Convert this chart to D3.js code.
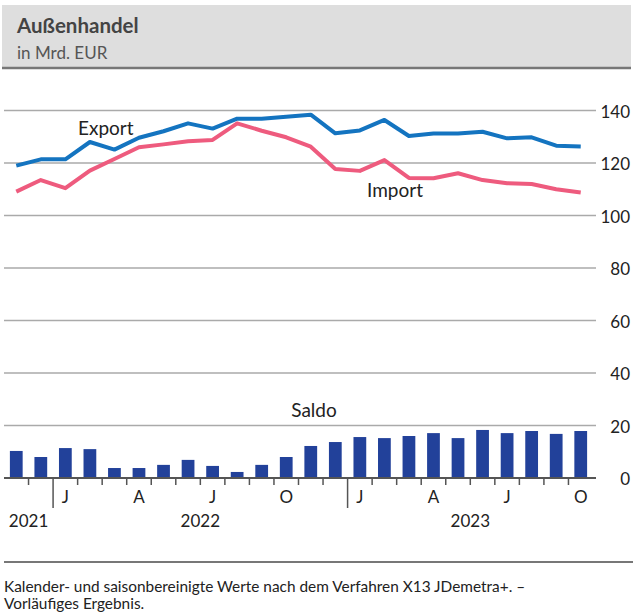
<!DOCTYPE html>
<html><head><meta charset="utf-8">
<script src="https://cdn.jsdelivr.net/npm/d3@7/dist/d3.min.js"></script>
<style>
html,body{margin:0;padding:0;background:#fff;}
svg{display:block;font-family:Lato,"Noto Sans",sans-serif;}
</style></head>
<body>
<script>
// ---- data ----
const months = ["2021-11","2021-12","2022-01","2022-02","2022-03","2022-04","2022-05","2022-06","2022-07","2022-08","2022-09","2022-10","2022-11","2022-12","2023-01","2023-02","2023-03","2023-04","2023-05","2023-06","2023-07","2023-08","2023-09","2023-10"];
const exportValues = [119.0,121.4,121.4,128.0,125.1,129.6,132.1,135.1,133.1,136.9,136.9,137.6,138.4,131.3,132.4,136.4,130.3,131.2,131.2,131.9,129.4,129.8,126.6,126.3];
const importValues = [109.1,113.5,110.4,117.1,121.5,126.0,127.1,128.3,128.8,135.1,132.3,129.8,126.2,117.7,117.0,121.1,114.3,114.2,116.1,113.5,112.3,112.0,110.0,108.8];
const saldoValues  = [10.3,8.0,11.4,11.0,3.8,3.8,5.0,6.9,4.6,2.3,5.0,8.0,12.2,13.7,15.6,15.2,16.0,17.1,15.2,18.3,17.1,17.9,16.8,17.9];
const monthTickLabels = ["","","J","","","A","","","J","","","O","","","J","","","A","","","J","","","O"];
const years = ["2021","2022","2023"];
const yTicks = [0,20,40,60,80,100,120,140];

const W = 633, H = 613;
const svg = d3.select("body").append("svg").attr("width",W).attr("height",H);

// header
svg.append("rect").attr("x",2).attr("y",5).attr("width",629).attr("height",63).attr("fill","#dedede");
svg.append("line").attr("x1",2).attr("x2",631).attr("y1",68).attr("y2",68).attr("stroke","#777").attr("stroke-width",2.5);
svg.append("text").attr("x",17).attr("y",32.5).attr("font-size",20.5).attr("font-weight","bold").attr("fill","#444").text("Außenhandel");
svg.append("text").attr("x",17).attr("y",59).attr("font-size",17).attr("fill","#555").text("in Mrd. EUR");

// scales
const x = d3.scaleBand().domain(months).range([4,593]).padding(0);
const cx = m => x(m) + x.bandwidth()/2;
const y = d3.scaleLinear().domain([0,140]).range([478,110.5]);

// gridlines
svg.append("g").selectAll("line").data(yTicks.filter(d=>d>0)).join("line")
  .attr("x1",4).attr("x2",596).attr("y1",d=>y(d)).attr("y2",d=>y(d))
  .attr("stroke","#aaa").attr("stroke-width",1.5);

// y axis labels (right)
const yAxis = d3.axisRight(y).tickValues(yTicks).tickSize(0).tickPadding(0);
const ya = svg.append("g").attr("transform","translate(630,0)").call(yAxis);
ya.select(".domain").remove();
ya.selectAll("text").attr("text-anchor","end").attr("x",0).attr("dy",null).attr("dominant-baseline","central")
  .attr("font-family","Lato").attr("font-size",17).attr("fill","#222");

// bars
const bw = x.bandwidth()*0.52;
svg.append("g").selectAll("rect").data(saldoValues).join("rect")
  .attr("x",(d,i)=>cx(months[i])-bw/2).attr("width",bw)
  .attr("y",d=>y(d)).attr("height",d=>y(0)-y(d)).attr("fill","#22419a");

// baseline
svg.append("line").attr("x1",4).attr("x2",596).attr("y1",y(0)).attr("y2",y(0)).attr("stroke","#555").attr("stroke-width",2);

// month ticks
const boundaries = d3.range(1,24);
svg.append("g").selectAll("line").data(boundaries).join("line")
  .attr("x1",i=>x(months[i])).attr("x2",i=>x(months[i]))
  .attr("y1",y(0)).attr("y2",i=>months[i].endsWith("-01")?508:485)
  .attr("stroke","#555").attr("stroke-width",1.5);

// month labels
svg.append("g").selectAll("text").data(monthTickLabels).join("text")
  .attr("x",(d,i)=>cx(months[i])).attr("y",503).attr("text-anchor","middle")
  .attr("font-size",17).attr("fill","#222").text(d=>d);

// year labels
years.forEach(yr=>{
  const ms = months.filter(m=>m.startsWith(yr));
  const c = (cx(ms[0])+cx(ms[ms.length-1]))/2;
  svg.append("text").attr("x",c).attr("y",527).attr("text-anchor","middle").attr("font-size",17).attr("fill","#222").text(yr);
});

// lines
const line = d3.line().x((d,i)=>cx(months[i])).y(d=>y(d));
svg.append("path").datum(importValues).attr("d",line).attr("fill","none").attr("stroke","#ee5b7e").attr("stroke-width",4).attr("stroke-linejoin","round");
svg.append("path").datum(exportValues).attr("d",line).attr("fill","none").attr("stroke","#1474c0").attr("stroke-width",4).attr("stroke-linejoin","round");

// series labels
svg.append("text").attr("x",78).attr("y",135).attr("font-size",19).attr("fill","#222").text("Export");
svg.append("text").attr("x",367).attr("y",197).attr("font-size",19).attr("fill","#222").text("Import");
svg.append("text").attr("x",314).attr("y",416.5).attr("text-anchor","middle").attr("font-size",19).attr("fill","#222").text("Saldo");

// footer
svg.append("line").attr("x1",4).attr("x2",633).attr("y1",562).attr("y2",562).attr("stroke","#777").attr("stroke-width",2);
const ft = svg.append("text").attr("font-size",15.4).attr("fill","#222");
ft.append("tspan").attr("x",4).attr("y",592).text("Kalender- und saisonbereinigte Werte nach dem Verfahren X13 JDemetra+. –");
ft.append("tspan").attr("x",4).attr("y",609).text("Vorläufiges Ergebnis.");
</script>
</body></html>
